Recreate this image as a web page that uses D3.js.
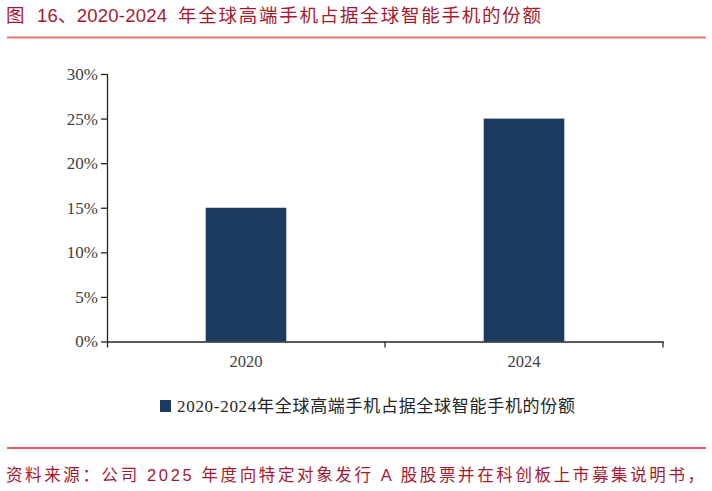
<!DOCTYPE html>
<html>
<head>
<meta charset="utf-8">
<script src="https://cdn.jsdelivr.net/npm/d3@7"></script>
<style>
  body { margin: 0; background: #fff; }
  svg { display: block; }
</style>
</head>
<body>
<svg id="chart" width="712" height="491"></svg>
<script>
const years = ["2020", "2024"];
const shares = [0.15, 0.25];
const yTicks = [0, 0.05, 0.10, 0.15, 0.20, 0.25, 0.30];
const seriesName = "2020-2024年全球高端手机占据全球智能手机的份额";
const figLabel = "图";
const figNum = "16、2020-2024";
const titleText = "年全球高端手机占据全球智能手机的份额";
const sourceText = "资料来源：公司 2025 年度向特定对象发行 A 股股票并在科创板上市募集说明书，";

const svg = d3.select("#chart");
const red = "#a6192e";
const cjk = "'Liberation Sans', 'Noto Sans CJK SC', sans-serif";
const serif = "'Liberation Serif', 'Noto Sans CJK SC', serif";

// title + rule
const titleParts = [
  { text: figLabel, x: 6, len: null },
  { text: figNum, x: 37, len: 130 },
  { text: titleText, x: 178, len: 363 }
];
svg.selectAll("text.title")
  .data(titleParts)
  .enter()
  .append("text")
  .attr("class", "title")
  .attr("x", (d) => d.x)
  .attr("y", 22)
  .attr("fill", red)
  .attr("textLength", (d) => d.len)
  .attr("lengthAdjust", "spacing")
  .style("font-family", cjk)
  .style("font-size", "18.5px")
  .text((d) => d.text);

svg.append("line")
  .attr("x1", 7).attr("x2", 706)
  .attr("y1", 37.5).attr("y2", 37.5)
  .attr("stroke", "#e8736c")
  .attr("stroke-width", 2);

// plot area
const plotLeft = 107, plotRight = 663, plotTop = 74, plotBottom = 341.5;

const x = d3.scaleBand()
  .domain(years)
  .range([plotLeft, plotRight])
  .padding(0);

const y = d3.scaleLinear()
  .domain([0, 0.30])
  .range([plotBottom, plotTop]);

const barW = x.bandwidth() * 0.29;

svg.selectAll("rect.bar")
  .data(years)
  .enter()
  .append("rect")
  .attr("class", "bar")
  .attr("x", (d) => x(d) + x.bandwidth() / 2 - barW / 2)
  .attr("y", (d, i) => y(shares[i]))
  .attr("width", barW)
  .attr("height", (d, i) => plotBottom - y(shares[i]))
  .attr("fill", "#1b3a5f");

// y axis
const yAxis = svg.append("g")
  .attr("transform", `translate(${plotLeft}, 0)`)
  .call(d3.axisLeft(y)
    .tickValues(yTicks)
    .tickFormat(d3.format(".0%"))
    .tickSize(6)
    .tickSizeOuter(0)
    .tickPadding(3));

yAxis.select(".domain").attr("stroke", "#262626").attr("stroke-width", 1.3)
  .attr("d", `M0.5,${plotTop}V${plotBottom + 6}`);
yAxis.selectAll(".tick line").attr("stroke", "#262626").attr("stroke-width", 1.3);
yAxis.selectAll(".tick text")
  .attr("fill", "#404040")
  .style("font-family", serif)
  .style("font-size", "17px");

// x axis with ticks at category boundaries
const xAxis = svg.append("g")
  .attr("transform", `translate(0, ${plotBottom})`)
  .call(d3.axisBottom(x).tickSize(0).tickPadding(14));

xAxis.select(".domain").attr("stroke", "#262626").attr("stroke-width", 1.3);
xAxis.selectAll(".tick text")
  .attr("fill", "#404040")
  .style("font-family", serif)
  .style("font-size", "16.5px");

const bounds = years.slice(1).map((d) => x(d)).concat([plotRight]);
xAxis.selectAll("line.bound")
  .data(bounds)
  .enter()
  .append("line")
  .attr("class", "bound")
  .attr("x1", (d) => d).attr("x2", (d) => d)
  .attr("y1", 0).attr("y2", 6)
  .attr("stroke", "#262626")
  .attr("stroke-width", 1.3);

// legend
const legend = svg.append("g").attr("transform", "translate(160, 400)");
legend.append("rect")
  .attr("width", 11).attr("height", 12)
  .attr("fill", "#1b3a5f");
legend.append("text")
  .attr("x", 17)
  .attr("y", 12)
  .attr("fill", "#262626")
  .attr("textLength", 398)
  .attr("lengthAdjust", "spacing")
  .style("font-family", serif)
  .style("font-size", "17px")
  .text(seriesName);

// source rule + text
svg.append("line")
  .attr("x1", 7).attr("x2", 706)
  .attr("y1", 448).attr("y2", 448)
  .attr("stroke", "#d9262b")
  .attr("stroke-width", 1.3);

svg.append("text")
  .attr("x", 6)
  .attr("y", 481)
  .attr("fill", red)
  .attr("textLength", 698)
  .attr("lengthAdjust", "spacing")
  .style("font-family", cjk)
  .style("font-size", "16.5px")
  .text(sourceText);
</script>
</body>
</html>
